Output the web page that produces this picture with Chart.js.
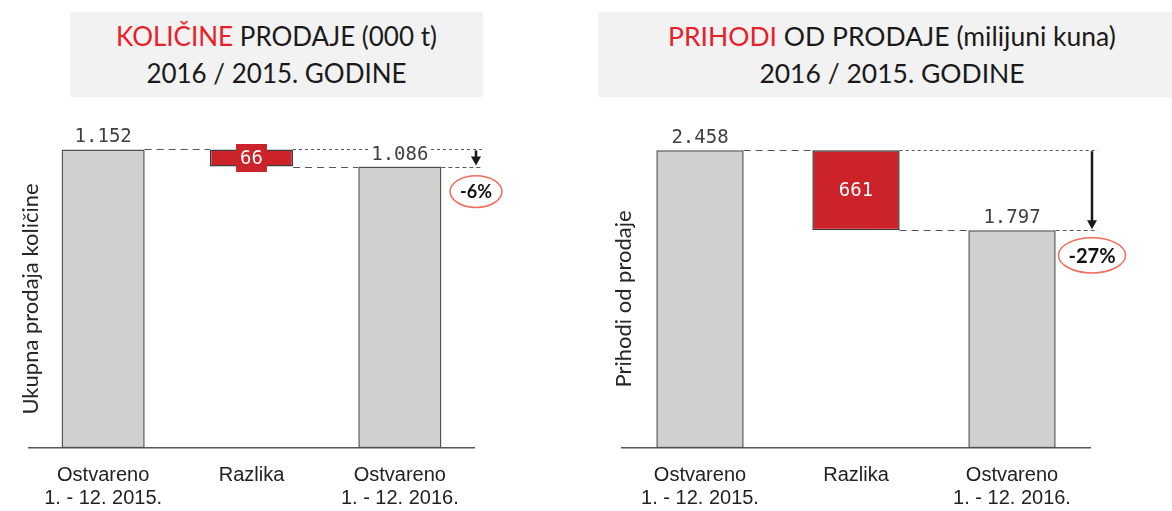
<!DOCTYPE html>
<html>
<head>
<meta charset="utf-8">
<script src="https://cdn.jsdelivr.net/npm/chart.js@4.4.1/dist/chart.umd.min.js"></script>
<style>
  body { margin: 0; width: 1172px; height: 511px; background: #fff; position: relative; overflow: hidden; font-family: Lato, sans-serif; }
  .naslov { position: absolute; top: 12px; height: 85px; background: #f2f2f2; text-align: center; font-size: 26px; color: #1a1a1a; line-height: 37px; padding-top: 6px; box-sizing: border-box; white-space: nowrap; }
  .naslov span { color: #e8202a; }
  .platno { position: absolute; top: 0; }
</style>
</head>
<body>
<div class="naslov" style="left:70px;width:413px"><span>KOLIČINE</span> PRODAJE (000 t)<br>2016 / 2015. GODINE</div>
<div class="naslov" style="left:598px;width:588px;font-size:26.5px"><span>PRIHODI</span> OD PRODAJE (milijuni kuna)<br>2016 / 2015. GODINE</div>
<canvas id="grafKolicine" class="platno" width="590" height="530" style="left:0"></canvas>
<canvas id="grafPrihodi" class="platno" width="582" height="530" style="left:590px"></canvas>

<script>
// podaci
const kategorije = [['Ostvareno', '1. - 12. 2015.'], 'Razlika', ['Ostvareno', '1. - 12. 2016.']]
const kolicine = [1152, 1086] // 000 t, 2015 i 2016
const prihodi = [2458, 1797] // milijuni kuna, 2015 i 2016

const SIVA = '#d0d0ce'
const CRVENA = '#cc2229'
const MONO = '"DejaVu Sans Mono", monospace'

const formatBroj = (v) => String(v).replace(/\B(?=(\d{3})+(?!\d))/g, '.')

// crta isprekidane linije, strelicu, postotak i oznake vrijednosti
const vodopadPlugin = {
  id: 'vodopad',
  afterDatasetsDraw(chart) {
    const ctx = chart.ctx
    const o = chart.options.plugins.vodopad
    const area = chart.chartArea
    const bars = chart.getDatasetMeta(0).data.map((b) => {
      const p = b.getProps(['x', 'y', 'base', 'width'], true)
      return {
        x: p.x,
        top: Math.min(p.y, p.base),
        bottom: Math.max(p.y, p.base),
        left: p.x - p.width / 2,
        right: p.x + p.width / 2,
      }
    })
    const [b1, b2, b3] = bars
    const strelicaX = area.right + 2
    const krajX = area.right + 8

    const linija = (x1, x2, y, dash) => {
      ctx.save()
      ctx.strokeStyle = '#595959'
      ctx.lineWidth = 1
      ctx.setLineDash(dash)
      ctx.beginPath()
      ctx.moveTo(x1, Math.round(y) + 0.5)
      ctx.lineTo(x2, Math.round(y) + 0.5)
      ctx.stroke()
      ctx.restore()
    }
    linija(b1.right, b2.left, b1.top, [7, 5])
    linija(b2.right, krajX, b1.top, [3, 3])
    linija(b2.right, b3.left, b3.top, [7, 5])
    linija(b3.right, krajX, b3.top, [4, 3])

    // strelica
    ctx.save()
    ctx.strokeStyle = '#1a1a1a'
    ctx.fillStyle = '#1a1a1a'
    ctx.lineWidth = 2.5
    const vrh = b1.top + 1
    const dno = b3.top - 1
    ctx.beginPath()
    ctx.moveTo(strelicaX, vrh)
    ctx.lineTo(strelicaX, dno - 8)
    ctx.stroke()
    ctx.beginPath()
    ctx.moveTo(strelicaX - 5, dno - 9)
    ctx.lineTo(strelicaX + 5, dno - 9)
    ctx.lineTo(strelicaX, dno)
    ctx.closePath()
    ctx.fill()
    ctx.restore()

    // postotak u elipsi
    const pct = Math.round(((o.vrijednosti[1] - o.vrijednosti[0]) / o.vrijednosti[0]) * 100)
    ctx.save()
    ctx.font = 'bold ' + o.pctFont + 'px Lato, sans-serif'
    const tekst = pct + '%'
    const w = ctx.measureText(tekst).width
    const cy = b3.top + 25
    ctx.beginPath()
    ctx.ellipse(strelicaX, cy, w / 2 + 10, o.pctFont * 0.88, 0, 0, Math.PI * 2)
    ctx.fillStyle = '#fff'
    ctx.fill()
    ctx.strokeStyle = '#f26b5b'
    ctx.lineWidth = 1.5
    ctx.stroke()
    ctx.fillStyle = '#111'
    ctx.textAlign = 'center'
    ctx.textBaseline = 'middle'
    ctx.fillText(tekst, strelicaX, cy + 1)
    ctx.restore()

    // oznake vrijednosti iznad stupaca
    ctx.save()
    ctx.font = '19px ' + MONO
    ctx.textAlign = 'center'
    ctx.textBaseline = 'alphabetic'
    ;[b1, b3].forEach((b, i) => {
      const t = formatBroj(o.vrijednosti[i])
      const tw = ctx.measureText(t).width
      ctx.fillStyle = '#fff'
      ctx.fillRect(b.x - tw / 2 - 2, b.top - 25, tw + 4, 19)
      ctx.fillStyle = '#404040'
      ctx.fillText(t, b.x, b.top - 7)
    })
    // razlika u crvenom okviru
    const razlika = formatBroj(o.vrijednosti[0] - o.vrijednosti[1])
    ctx.font = '19px ' + MONO
    const rw = ctx.measureText(razlika).width + 8
    const sy = (b2.top + b2.bottom) / 2
    ctx.fillStyle = CRVENA
    ctx.fillRect(b2.x - rw / 2, sy - 14, rw, 28)
    ctx.fillStyle = '#fff'
    ctx.textBaseline = 'middle'
    ctx.fillText(razlika, b2.x, sy + 1)
    ctx.restore()

    // naslov osi y
    ctx.save()
    ctx.translate(area.left + 2, area.bottom - 149)
    ctx.rotate(-Math.PI / 2)
    ctx.font = '22px Lato, sans-serif'
    ctx.fillStyle = '#262626'
    ctx.textAlign = 'center'
    ctx.textBaseline = 'middle'
    ctx.fillText(o.naslovY, 0, 0)
    ctx.restore()
  },
}

const napraviGraf = function (id, vrijednosti, yMax, padding, naslovY, pctFont) {
  const ctx = document.getElementById(id).getContext('2d')
  return new Chart(ctx, {
    type: 'bar',
    data: {
      labels: kategorije,
      datasets: [
        {
          data: [
            [0, vrijednosti[0]],
            [vrijednosti[1], vrijednosti[0]],
            [0, vrijednosti[1]],
          ],
          backgroundColor: [SIVA, CRVENA, SIVA],
          borderColor: ['#505050', '#3c3c3c', '#505050'],
          borderWidth: 1.5,
          borderSkipped: false,
          categoryPercentage: 1,
          barPercentage: 0.56,
        },
      ],
    },
    options: {
      responsive: false,
      animation: false,
      layout: { padding: padding },
      scales: {
        x: {
          grid: { display: false, drawTicks: false },
          border: { display: true, color: '#595959', width: 1.5 },
          ticks: {
            color: '#222',
            padding: 16,
            font: { family: '"Liberation Sans", Arial, sans-serif', size: 20, lineHeight: 1.15 },
          },
        },
        y: { display: false, min: 0, max: yMax },
      },
      plugins: {
        legend: { display: false },
        tooltip: { enabled: false },
        vodopad: { vrijednosti: vrijednosti, naslovY: naslovY, pctFont: pctFont },
      },
    },
    plugins: [vodopadPlugin],
  })
}

napraviGraf('grafKolicine', kolicine, 1200, { left: 29, right: 116, top: 137, bottom: 4 }, 'Ukupna prodaja količine', 18)
napraviGraf('grafPrihodi', prihodi, 2600, { left: 32, right: 82, top: 133, bottom: 4 }, 'Prihodi od prodaje', 20)
</script>
</body>
</html>
